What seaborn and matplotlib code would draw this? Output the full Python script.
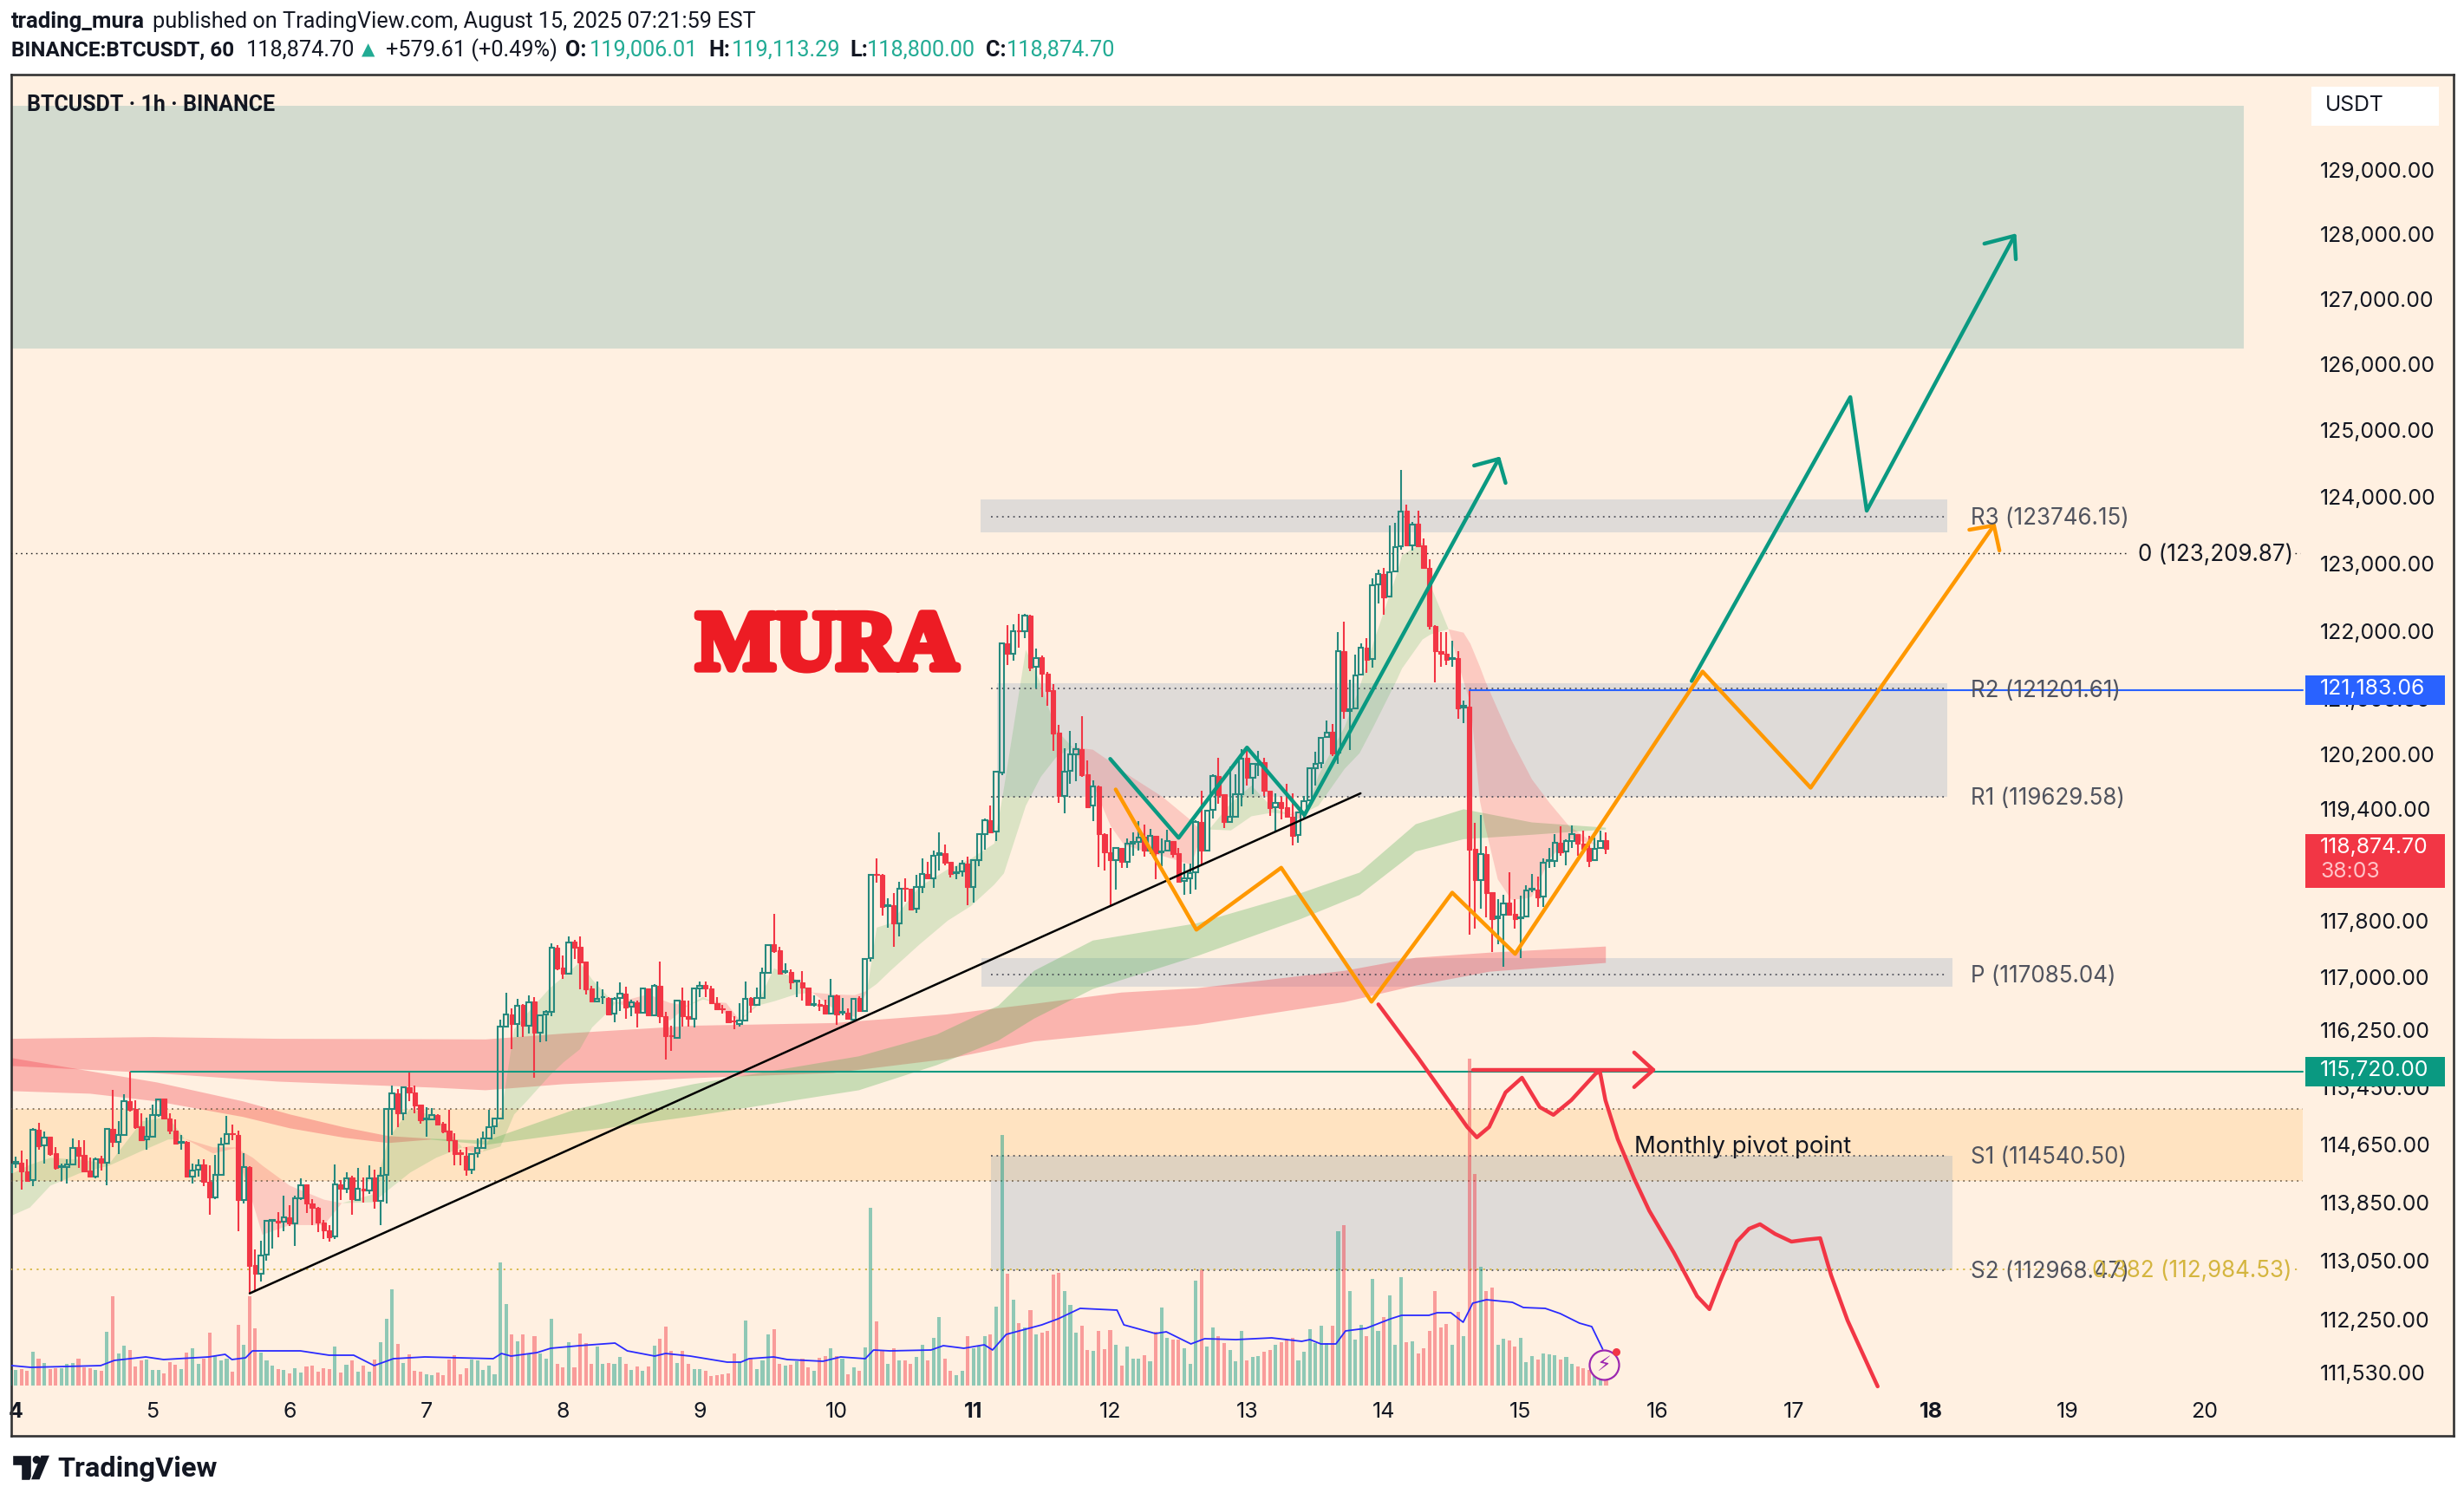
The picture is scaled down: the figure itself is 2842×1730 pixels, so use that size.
"""BTCUSDT 1h TradingView snapshot, redrawn with seaborn / matplotlib."""
import numpy as np
import pandas as pd
import matplotlib
matplotlib.use("Agg")
import matplotlib.pyplot as plt
import matplotlib.patheffects as pe
from matplotlib.patches import Rectangle, Polygon
from matplotlib.ticker import FixedLocator, NullLocator
from matplotlib.transforms import ScaledTranslation
import seaborn as sns

# ── Candles, 1h, first one is partly cut by the left edge ─────────────────────
OPENS = [114316,
    114436,114444,114332,114208,114908,114684,114804,114576,114392,114392,
    114420,114660,114552,114336,114252,114504,114452,114924,114740,114836,
    115308,115200,114960,114776,114812,115108,115336,115068,114900,114728,
    114736,114260,114348,114420,114188,113968,114284,114708,114860,114840,
    113932,114384,113040,112928,113184,113644,113648,113632,113700,113612,
    113956,114144,113888,113832,113628,113520,113428,114152,114092,114240,
    113940,114092,114068,114240,113920,114276,115196,115416,115140,115500,
    115428,115256,115052,115052,115116,114996,114896,114764,114588,114548,
    114356,114576,114656,114788,114956,115060,116352,116523,116384,116649,
    116364,116698,116262,116515,116559,117463,117186,117101,117553,117475,
    117268,116893,116706,116759,116755,116531,116747,116820,116625,116694,
    116547,116893,116507,116926,116502,116226,116193,116718,116498,116462,
    116889,116938,116889,116678,116604,116572,116429,116388,116437,116747,
    116657,116755,117109,117512,117430,117121,117125,116983,116979,116905,
    116661,116673,116653,116527,116787,116547,116547,116449,116752,116573,
    117315,118519,118507,118052,118072,117811,118321,118300,118023,118333,
    118519,118457,118788,118817,118685,118532,118557,118672,118325,118722,
    119095,119294,119128,119984,121865,121711,122066,122045,122283,121523,
    121661,121427,121176,120561,119646,120005,120244,120319,119955,119500,
    119784,119091,118830,118718,118892,118693,118958,118975,119053,118850,
    119066,118834,118850,118991,118817,118416,118457,118540,119264,118854,
    119442,119935,119663,119264,119335,119672,120198,119906,120098,120131,
    119722,119480,119554,119480,119339,119078,119409,119575,120048,120115,
    120499,120574,120270,121754,120879,120914,121414,121800,121637,122745,
    122897,122557,122938,123304,123842,123319,123649,123324,122989,122125,
    121754,121719,121643,121648,120933,120939,118873,118436,118804,118259,
    117881,117930,118102,117945,117881,117905,118293,118298,118190,118701,
    118701,118962,118839,118996,119094,118952,118888,118711,118888,119006.01]
HIGHS = [114468,
    114528,114620,114500,114928,115008,114888,114804,114660,114436,114492,
    114788,114756,114756,114516,114524,114540,114928,115464,115032,115404,
    115720,115320,115140,115080,115256,115324,115344,115140,115056,114840,
    114744,114432,114492,114500,114408,114552,114800,115100,114984,114900,
    114576,114396,113256,113376,113660,113660,113772,114000,113868,113996,
    114236,114144,113948,113840,113660,113588,114420,114204,114312,114264,
    114372,114240,114408,114348,114392,115212,115520,115476,115512,115720,
    115524,115256,115220,115208,115128,115020,115188,114860,114628,114660,
    114568,114788,114888,115188,115080,116445,116832,116600,116743,116669,
    116791,116759,116515,116576,117524,117504,117353,117626,117577,117626,
    117268,116926,116987,116881,116759,116763,116975,116914,116730,116710,
    116905,116893,116950,117268,116551,116364,116718,116901,116722,116901,
    116991,116991,116926,116759,116661,116572,116494,116682,116991,116771,
    116901,117186,117516,117945,117475,117247,117158,117007,117137,116905,
    116791,116730,116730,117023,116804,116747,116600,116747,116772,117310,
    118507,118747,118519,118167,118250,118407,118449,118300,118507,118747,
    118697,118859,119120,118946,118697,118623,118718,118768,118722,119095,
    119318,119505,120005,121878,122141,122150,122304,122304,122288,121794,
    121690,121452,121276,120674,120331,120582,120407,120800,120156,119863,
    119792,119099,119177,118904,118892,119028,119120,119277,119223,119169,
    119066,119028,119153,118995,118892,118664,118672,119285,119722,119442,
    119956,120198,119663,120073,119956,120324,120340,120123,120299,120198,
    119722,119684,119624,119822,119684,119417,119642,120048,120282,120499,
    120733,120687,122034,122196,121338,121709,121871,121947,122836,122963,
    122989,123624,123659,124452,123934,123675,123842,123421,123116,122135,
    122039,122039,121912,121754,121023,121186,119256,119370,118913,118259,
    118151,118225,118544,118151,118210,118357,118519,118485,118741,118888,
    119084,119207,119011,119217,119094,119143,119070,119035,119134,119113.29]
LOWS = [114208,
    114376,114076,114180,114124,114628,114436,114540,114356,114196,114160,
    114408,114372,114316,114240,114236,114340,114136,114660,114564,114836,
    115156,114924,114744,114628,114804,115092,115060,114852,114708,114628,
    114256,114160,114252,114124,113736,113944,114280,114700,114760,113508,
    113884,112648,112688,112816,113104,113268,113416,113500,113580,113308,
    113936,113760,113592,113496,113400,113364,113392,113940,114024,113736,
    113920,113904,114016,113820,113584,113884,114840,114948,115036,115308,
    115132,114996,114808,115052,114972,114864,114588,114408,114412,114264,
    114292,114520,114652,114780,114852,115050,116348,116038,116209,116209,
    116246,115636,116128,116140,116494,117150,117019,117093,117300,116881,
    116800,116702,116698,116673,116515,116405,116568,116454,116494,116332,
    116543,116507,116502,116397,115892,116014,116177,116348,116348,116336,
    116759,116759,116665,116584,116527,116405,116307,116348,116433,116543,
    116641,116751,117105,117386,117089,117097,116881,116763,116714,116649,
    116629,116564,116519,116519,116372,116507,116446,116429,116553,116573,
    117265,118395,117919,117753,117472,117621,118118,118002,117960,118242,
    118449,118317,118573,118639,118465,118441,118478,118076,118105,118631,
    118871,119111,118987,119947,121552,121619,121803,121941,121460,121201,
    121075,120950,120290,119542,119393,119813,119851,119922,119467,119273,
    118614,118573,118076,118292,118602,118602,118776,118850,118768,118809,
    118441,118623,118838,118755,118395,118221,118229,118291,118643,118850,
    119318,119533,119182,119256,119326,119492,119797,119663,119935,119646,
    119347,119119,119306,119335,118933,118962,119326,119567,119789,120048,
    120491,120215,120111,120765,120309,120904,121414,121434,121516,122455,
    122288,122552,122928,123253,123319,123243,123304,122989,122074,121302,
    121531,121556,121526,120765,120701,117645,117733,118018,117896,117404,
    117512,117193,117930,117733,117316,117896,118259,118043,118043,118603,
    118618,118775,118642,118888,118775,118878,118618,118706,118878,118800.00]
CLOSES = [114428,
    114460,114328,114196,114908,114676,114796,114564,114380,114404,114424,
    114652,114540,114324,114252,114500,114444,114916,114732,114832,115300,
    115188,114948,114760,114808,115112,115324,115060,114892,114708,114740,
    114256,114340,114412,114184,113968,114284,114700,114844,114848,113932,
    114388,113032,112924,113176,113648,113656,113620,113692,113608,113956,
    114140,113888,113824,113620,113512,113424,114152,114084,114232,113944,
    114088,114064,114232,113920,114272,115196,115408,115132,115500,115420,
    115248,115044,115064,115112,114984,114888,114756,114568,114572,114352,
    114568,114652,114780,114948,115060,116352,116519,116384,116641,116356,
    116690,116262,116511,116555,117463,117170,117101,117544,117471,117260,
    116881,116702,116739,116767,116523,116739,116812,116616,116686,116543,
    116893,116507,116926,116502,116214,116214,116714,116494,116462,116889,
    116930,116885,116678,116592,116592,116409,116417,116433,116739,116649,
    116751,117105,117508,117422,117097,117133,116971,116995,116897,116653,
    116673,116641,116527,116779,116523,116559,116458,116739,116565,117306,
    118499,118503,118043,118068,117807,118308,118308,118014,118333,118519,
    118457,118776,118813,118677,118519,118548,118664,118325,118714,119087,
    119294,119120,119997,121865,121711,122045,122054,122275,121514,121656,
    121418,121167,120553,119637,119997,120239,120315,119947,119484,119775,
    119087,118826,118718,118892,118689,118950,118975,119045,118855,119062,
    118813,118846,118987,118809,118407,118449,118528,119264,118850,119434,
    119927,119655,119260,119335,119663,120186,119901,120102,120110,119713,
    119471,119542,119471,119335,119070,119409,119571,120039,120110,120491,
    120566,120261,121754,120879,120904,121404,121800,121627,122735,122897,
    122552,122928,123294,123832,123319,123639,123304,122989,122125,121754,
    121719,121627,121658,120914,120948,118863,118431,118800,118249,117871,
    117915,118092,117940,117871,117896,118279,118308,118180,118682,118716,
    118962,118829,118986,119084,118957,118878,118706,118878,118996,118874.70]

# volume read as bar height, arbitrary units
VOLUMES = [18,
    18,19,17,39,31,26,19,20,20,25,
    26,31,21,20,18,17,62,103,37,46,
    41,22,29,30,18,18,14,27,24,19,
    38,43,25,31,61,34,29,31,16,70,
    47,103,66,38,29,23,19,18,14,20,
    15,22,23,16,20,19,45,15,24,29,
    16,23,16,30,50,77,111,48,26,36,
    17,16,13,12,15,12,30,35,13,20,
    30,29,18,23,13,142,94,59,51,59,
    37,57,37,31,77,25,21,50,21,60,
    49,25,45,25,26,25,33,25,18,22,
    17,22,46,54,68,40,26,40,25,19,
    19,17,11,12,13,14,37,28,75,31,
    19,29,59,65,25,23,24,28,31,21,
    17,32,34,43,34,31,13,21,17,44,
    205,74,41,25,43,29,29,25,33,47,
    29,55,79,31,17,12,17,57,43,45,
    57,59,91,289,129,99,72,67,87,59,
    61,63,128,130,109,93,61,69,41,40,
    63,42,64,47,23,45,31,31,35,28,
    62,90,55,53,53,43,25,121,133,45,
    67,57,49,41,28,63,29,33,34,39,
    41,47,50,53,55,29,39,65,49,69,
    49,69,178,185,109,53,70,57,123,63,
    79,104,47,125,50,51,37,43,63,109,
    67,71,47,85,57,377,244,137,109,113,
    47,54,52,45,55,27,34,30,37,36,
    35,30,33,25,22,20,18,15,12,8]

VOL_MA_DAYS = [3.97,4.11,4.62,4.72,4.95,5.08,5.41,5.53,5.58,5.68,5.73,6.08,6.29,6.47,6.62,6.76,
               6.99,7.49,7.55,7.62,7.81,7.91,8.12,8.38,8.47,8.67,8.75,8.93,9.20,9.30,9.36,9.54,
               9.64,9.90,10.03,10.21,10.27,10.39,10.69,10.78,10.93,11.08,11.14,11.24,11.50,11.62,
               11.78,12.05,12.10,12.33,12.41,12.59,12.69,12.92,13.18,13.40,13.46,13.54,13.65,13.72,
               13.87,14.05,14.13,14.33,14.39,14.49,14.58,14.65,14.75,14.94,15.02,15.18,15.29,15.43,
               15.52,15.60]
VOL_MA = [23,21,23,29,33,30,33,36,30,32,40,40,35,35,23,31,
          33,31,37,34,38,43,46,49,40,34,37,34,27,27,31,33,
          30,28,33,31,41,40,41,46,43,47,41,59,70,77,
          89,87,70,60,62,48,54,53,55,51,53,48,48,63,
          66,77,81,81,84,84,73,95,99,96,90,89,83,72,
          68,42]

# ── Moving average ribbons ────────────────────────────────────────────────────
SLOW_RED_DAYS = [3.97,5.0,5.91,7.05,7.43,8.0,8.95,9.97,10.81,11.44,12.08,12.63,13.71,14.23,14.77,15.62]
SLOW_RED_UP = [116184,116208,116184,116178,116175,116257,116368,116405,116528,116676,116836,116897,117143,117328,117401,117488]
SLOW_RED_LOW = [115802,115704,115584,115500,115463,115548,115632,115704,115901,116147,116270,116381,116701,116934,117131,117255]

MID_RED_DAYS = [3.97,4.54,5.03,5.66,6.0,6.40,6.72,7.03]
MID_RED_UP = [115913,115729,115572,115307,115126,114945,114825,114788]
MID_RED_LOW = [115451,115415,115307,115090,114933,114801,114728,114776]

MID_GREEN_DAYS = [7.03,7.44,8.09,8.95,10.16,10.73,11.18,11.44,11.87,12.63,13.39,13.82,14.23,14.58,15.08,15.62]
MID_GREEN_UP = [114788,114764,115198,115548,115938,116245,116651,117143,117573,117818,118249,118543,119239,119455,119265,119189]
MID_GREEN_LOW = [114776,114704,114873,115102,115463,115815,116159,116467,116885,117351,117880,118223,118846,119023,119087,119163]

FAST_GREEN = [
    ([3.97,4.10,4.25,4.46,4.68,4.92,5.11,5.23],
     [114304,114427,114523,114499,114439,115030,115090,114789],
     [113728,113836,114138,114307,114415,114620,114776,114789]),
    ([6.38,6.61,6.72,6.88,7.07,7.26],
     [113897,114019,114787,115209,115089,114668],
     [113897,113909,114078,114319,114524,114668]),
    ([7.41,7.54,7.64,7.73,7.90,8.00,8.12,8.21,8.34,8.38],
     [114608,115066,116319,116528,116897,117057,117266,117020,116750,116688],
     [114608,114680,115126,115307,115668,115852,116036,116344,116590,116688]),
    ([8.91,9.02,9.08], [116651,116774,116712], [116651,116737,116712]),
    ([9.29,9.42,9.54,9.70,9.82],
     [116442,116688,117180,117020,116836],
     [116442,116651,116712,116811,116836]),
    ([10.22,10.29,10.39,10.60,10.81,10.98,11.15,11.22,11.38,11.49,11.60,11.72],
     [116860,117757,117818,118337,118591,118744,118960,119760,121782,121278,120611,120357],
     [116860,116957,117143,117512,117857,118066,118372,118532,119506,119925,120204,120357]),
    ([12.72,12.88,13.03,13.18,13.31],
     [119163,119544,119798,119481,119379],
     [119163,119150,119354,119405,119379]),
    ([13.43,13.52,13.71,13.82,13.92,14.09,14.13,14.28,14.34,14.47],
     [119417,119950,120649,121228,121883,122891,123181,123370,122727,122085],
     [119417,119506,120039,120268,120649,121329,121505,121933,122009,122085]),
]
FAST_RED = [
    ([5.23,5.44,5.60,5.73,5.80,6.0,6.25,6.38],
     [114789,114668,114668,114524,114415,114138,113945,113897],
     [114789,114583,114656,113897,113463,113595,113595,113897]),
    ([7.26,7.34,7.41], [114668,114690,114607], [114668,114596,114607]),
    ([8.38,8.62,8.78,8.91], [116688,116811,116688,116651], [116688,116565,116442,116651]),
    ([9.08,9.19,9.29], [116712,116688,116442], [116712,116528,116442]),
    ([9.82,9.97,10.13,10.22], [116836,116811,116799,116860], [116836,116614,116491,116860]),
    ([11.72,11.87,12.0,12.10,12.38,12.59,12.67],
     [120357,120319,120141,119989,119633,119290,119125],
     [120357,119823,119214,118935,118782,118655,119125]),
    ([13.31,13.37,13.43], [119379,119443,119417], [119379,119316,119417]),
    ([14.47,14.58,14.63,14.70,14.74,14.83,14.93,15.04,15.08,15.21,15.35,15.56],
     [122085,122034,121870,121530,121316,120903,120459,120039,119887,119544,119214,118935],
     [122085,121316,121005,119570,119189,118447,118152,118176,118201,118744,119036,118935]),
]

# ── Zones and levels (left day, right day, low price, high price) ─────────────
SUPPLY_ZONE = (3.96, 20.285, 126294, 130063)
PIVOT_BOXES = [(11.05, 18.12, 123518, 124009),
               (11.17, 18.12, 119630, 121289),
               (11.06, 18.16, 116912, 117318),
               (11.13, 18.16, 112970, 114546)]
MONTHLY_ZONE = (3.96, 20.72, 114202, 115196)
PIVOT_NAMES = ["R3", "R2", "R1", "P", "S1", "S2"]
PIVOT_LEVELS = [123746.15, 121201.61, 119629.58, 117085.04, 114540.50, 112968.47]
FIB_0 = 123209.87
FIB_382 = 112984.53
BLUE_LEVEL = 121183.06
GREEN_LEVEL = 115720.00

# ── Hand drawn paths ──────────────────────────────────────────────────────────
TREND_DAYS, TREND_PRICES = [5.71, 13.83], [112655, 119679]
ZIG_DAYS = [12.00,12.50,13.00,13.42,14.84]
ZIG_PRICES = [120179,119036,120344,119366,124620]
ZIG_HEAD_DAYS, ZIG_HEAD_PRICES = [14.66,14.84,14.89], [124519,124620,124258]
UP_DAYS = [16.25,17.41,17.53,18.61]
UP_PRICES = [121316,125555,123841,128028]
UP_HEAD_DAYS, UP_HEAD_PRICES = [18.39,18.61,18.62], [127907,128028,127666]
ORANGE_DAYS = [12.04,12.63,13.25,13.91,14.50,14.96,16.33,17.12,18.46]
ORANGE_PRICES = [119735,117721,118607,116700,118250,117377,121455,119760,123621]
ORANGE_HEAD_DAYS, ORANGE_HEAD_PRICES = [18.28,18.46,18.50], [123556,123621,123246]
RED_DAYS = [13.96,14.25,14.61,14.68,14.77,14.89,15.01,15.14,15.24,15.37,15.55,15.58,15.62,
            15.71,15.83,15.94,16.12,16.29,16.38,16.46,16.58,16.67,16.75,16.86,16.98,17.09,17.19,17.27,17.39,17.61]
RED_PRICES = [116663,115913,114945,114801,114945,115427,115632,115222,115114,115318,115692,115716,115318,
              114776,114231,113788,113212,112616,112440,112828,113362,113539,113601,113468,113362,113390,113409,112900,112286,111394]
RED_FLAT_DAYS, RED_FLAT_PRICES = [14.65,15.97], [115741,115741]
RED_HEAD_DAYS, RED_HEAD_PRICES = [15.83,15.97,15.83], [115986,115741,115501]

# ── Axis labels ───────────────────────────────────────────────────────────────
PRICE_TICKS = [129000,128000,127000,126000,125000,124000,123000,122000,121000,120200,
               119400,117800,117000,116250,115450,114650,113850,113050,112250,111530]
DAY_TICKS = list(range(4, 21))
BOLD_DAYS = [4, 11, 18]

# ── Style ─────────────────────────────────────────────────────────────────────
W, H = 2842, 1730
BG = "#fff0e1"
UP_C, DOWN_C = "#26897e", "#f23645"
TEAL, BLUE, ORANGE = "#0a9981", "#2962ff", "#ff9800"
LEVEL_C = "#3c3f4a"
PIVOT_TXT = "#50535e"
GOLD = "#d4b53f"
LINE_W = 3.2

sns.set_theme(style="white", rc={"axes.facecolor": BG, "savefig.facecolor": "white"})
plt.rcParams["font.family"] = ["Inter", "DejaVu Sans"]
plt.rcParams["axes.unicode_minus"] = False


def px(size):
    """pixel size to points at dpi=100"""
    return size * 0.72


def draw_path(ax, days, prices, color, lw, z=7, **kw):
    sns.lineplot(x=days, y=prices, sort=False, estimator=None, errorbar=None, color=color,
                 linewidth=lw, solid_capstyle="round", solid_joinstyle="round",
                 zorder=z, legend=False, ax=ax, **kw)


def band(ax, days, upper, lower, color, alpha):
    ax.fill_between(days, lower, upper, color=color, alpha=alpha, linewidth=0, zorder=2)


def box(ax, spec, color, alpha):
    d0, d1, low, high = spec
    ax.fill_between([d0, d1], [low, low], [high, high], color=color, alpha=alpha, linewidth=0, zorder=1)


def level(ax, d0, d1, price, color, lw=1.1, z=3):
    ax.plot([d0, d1], [price, price], color=color, lw=lw, ls=(0, (1.2, 3)), zorder=z)


def level_label(ax, day, price, text, color):
    # the labels sit a hair under the level, as on the reference
    ax.annotate(text, (day, price), xytext=(0, -1.5), textcoords="offset points", color=color,
                fontsize=px(26), va="center", ha="left", zorder=8)


days = 4 + np.arange(-1, 280) / 24
candles = pd.DataFrame({"day": days, "open": OPENS, "high": HIGHS, "low": LOWS,
                        "close": CLOSES, "volume": VOLUMES})
candles["up"] = candles["close"] >= candles["open"]
candles["top"] = candles[["open", "close"]].max(axis=1)
candles["bot"] = candles[["open", "close"]].min(axis=1)

fig = plt.figure(figsize=(W / 100, H / 100), dpi=100, facecolor="white")
rect = [13 / W, 1 - 1656 / H, (2830 - 13) / W, (1656 - 86) / H]
ax = fig.add_axes(rect, zorder=1)
ax.set_yscale("log")

# ── Zones ─────────────────────────────────────────────────────────────────────
box(ax, SUPPLY_ZONE, "#70ada8", 0.3)
box(ax, MONTHLY_ZONE, "#ff9800", 0.14)
for spec in PIVOT_BOXES:
    box(ax, spec, "#80a0c0", 0.25)

# ── Ribbons ───────────────────────────────────────────────────────────────────
band(ax, SLOW_RED_DAYS, SLOW_RED_UP, SLOW_RED_LOW, DOWN_C, 0.32)
band(ax, MID_RED_DAYS, MID_RED_UP, MID_RED_LOW, DOWN_C, 0.32)
band(ax, MID_GREEN_DAYS, MID_GREEN_UP, MID_GREEN_LOW, "#4caf50", 0.3)
for seg in FAST_GREEN:
    band(ax, *seg, "#4caf50", 0.2)
for seg in FAST_RED:
    band(ax, *seg, DOWN_C, 0.2)

# ── Levels ────────────────────────────────────────────────────────────────────
for price in [MONTHLY_ZONE[2], MONTHLY_ZONE[3]]:
    level(ax, 3.96, MONTHLY_ZONE[1], price, "#6b5a45")
for name, price in zip(PIVOT_NAMES, PIVOT_LEVELS):
    level(ax, 11.13, 18.10, price, LEVEL_C)
    level_label(ax, 18.29, price, f"{name} ({price:.2f})", PIVOT_TXT)
level(ax, 3.96, 19.45, FIB_0, "#202020", lw=1.0)
level(ax, 20.66, 20.70, FIB_0, "#202020", lw=1.0)
level_label(ax, 19.51, FIB_0, f"0 ({FIB_0:,.2f})", "#131722")
level(ax, 3.96, 19.15, FIB_382, GOLD, lw=1.3)
level(ax, 20.66, 20.70, FIB_382, GOLD, lw=1.3)
level_label(ax, 19.18, FIB_382, f"0.382 ({FIB_382:,.2f})", GOLD)

ax.plot([4.84, 20.72], [GREEN_LEVEL, GREEN_LEVEL], color=TEAL, lw=1.5, zorder=6)
ax.plot([14.63, 20.72], [BLUE_LEVEL, BLUE_LEVEL], color=BLUE, lw=1.5, zorder=6)

# ── Candles: outlined up bodies stay see-through, so wicks stop at the body ───
BODY_W = 0.034
up, down = candles[candles["up"]], candles[~candles["up"]]
ax.vlines(down["day"], down["low"], down["high"], color=DOWN_C, lw=1.5, zorder=4)
ax.bar(down["day"], down["top"] - down["bot"], bottom=down["bot"], width=BODY_W, color=DOWN_C,
       edgecolor=DOWN_C, linewidth=0.8, zorder=4)
ax.vlines(up["day"], up["top"], up["high"], color=UP_C, lw=1.5, zorder=4)
ax.vlines(up["day"], up["low"], up["bot"], color=UP_C, lw=1.5, zorder=4)
ax.bar(up["day"], up["top"] - up["bot"], bottom=up["bot"], width=BODY_W, facecolor="none",
       edgecolor=UP_C, linewidth=1.5, zorder=4)

# ── Drawings ──────────────────────────────────────────────────────────────────
draw_path(ax, TREND_DAYS, TREND_PRICES, "#000000", 1.8)
draw_path(ax, ZIG_DAYS, ZIG_PRICES, TEAL, LINE_W)
draw_path(ax, ZIG_HEAD_DAYS, ZIG_HEAD_PRICES, TEAL, LINE_W)
draw_path(ax, UP_DAYS, UP_PRICES, TEAL, LINE_W)
draw_path(ax, UP_HEAD_DAYS, UP_HEAD_PRICES, TEAL, LINE_W)
draw_path(ax, ORANGE_DAYS, ORANGE_PRICES, ORANGE, LINE_W)
draw_path(ax, ORANGE_HEAD_DAYS, ORANGE_HEAD_PRICES, ORANGE, LINE_W)
draw_path(ax, RED_DAYS, RED_PRICES, DOWN_C, LINE_W)
draw_path(ax, RED_FLAT_DAYS, RED_FLAT_PRICES, DOWN_C, LINE_W)
draw_path(ax, RED_HEAD_DAYS, RED_HEAD_PRICES, DOWN_C, LINE_W)

ax.text(15.83, 114665, "Monthly pivot point", color="#131722", fontsize=px(27.5), va="center", ha="left", zorder=8)

# ── Axes ──────────────────────────────────────────────────────────────────────
ax.set_xlim(3.967, 21.82)
ax.set_ylim(110730, 130550)
ax.yaxis.tick_right()
ax.yaxis.set_major_locator(FixedLocator(PRICE_TICKS))
ax.yaxis.set_minor_locator(NullLocator())
ax.set_yticklabels([f"{t:,.2f}" for t in PRICE_TICKS])
ax.set_xticks(DAY_TICKS)
ax.set_xticklabels([str(d) for d in DAY_TICKS])
ax.tick_params(axis="y", which="both", length=0, pad=-px(154), labelsize=px(24.8), labelcolor="#131722")
ax.tick_params(axis="x", length=0, pad=-px(39), labelsize=px(25), labelcolor="#131722")
for lab, d in zip(ax.get_xticklabels(), DAY_TICKS):
    if d in BOLD_DAYS:
        lab.set_fontweight("bold")
# scale labels sit slightly above their price
lift = ScaledTranslation(0, 4 / 100, fig.dpi_scale_trans)
for lab in ax.get_yticklabels():
    lab.set_transform(lab.get_transform() + lift)
ax.set_xlabel("")
ax.set_ylabel("")
for sp in ax.spines.values():
    sp.set_visible(True)
    sp.set_color("#333333")
    sp.set_linewidth(1.9)

# ── Volume pane on its own linear axis, sharing the day scale ─────────────────
ax_vol = fig.add_axes(rect, sharex=ax, zorder=2)
ax_vol.patch.set_alpha(0)
candles["side"] = np.where(candles["up"], "up", "down")
sns.barplot(data=candles, x="day", y="volume", hue="side", palette={"up": "#089981", "down": DOWN_C},
            native_scale=True, dodge=False, width=0.62, saturation=1, alpha=0.45, linewidth=0,
            errorbar=None, legend=False, ax=ax_vol)
sns.lineplot(x=VOL_MA_DAYS, y=VOL_MA, color="#2a2aff", linewidth=1.3, estimator=None, errorbar=None,
             sort=False, legend=False, ax=ax_vol)
ax_vol.set_ylim(-58, 1512)
ax_vol.set_xlim(3.967, 21.82)
ax_vol.set_axis_off()

# ── Indicator badge ───────────────────────────────────────────────────────────
ax_vol.scatter([15.61], [24], s=600, facecolor=BG, edgecolor="#9c27b0", linewidth=1.6, zorder=8)
ax_vol.text(15.61, 24, "\u26a1", color="#9c27b0", fontsize=px(24), ha="center", va="center",
            family=["DejaVu Sans"], zorder=9)
ax_vol.scatter([15.70], [39], s=30, color=DOWN_C, zorder=10)


# ── Price tags on the scale, placed from the price via the axis transform ─────
def tag(price, color, label, half=17):
    cy = ax.transData.transform((5, price))[1]
    fig.add_artist(Rectangle((2659 / W, (cy - half) / H), 161 / W, 2 * half / H, transform=fig.transFigure,
                             facecolor=color, edgecolor="none", zorder=5))
    fig.text(2676 / W, (cy + 1) / H, label, color="white", fontsize=px(24.8), va="center", ha="left", zorder=6)


tag(BLUE_LEVEL, BLUE, f"{BLUE_LEVEL:,.2f}")
tag(GREEN_LEVEL, TEAL, f"{GREEN_LEVEL:,.2f}")
last_y = 1 - 993 / H
fig.add_artist(Rectangle((2659 / W, last_y - 31 / H), 161 / W, 62 / H, transform=fig.transFigure,
                         facecolor=DOWN_C, edgecolor="none", zorder=5))
fig.text(2676 / W, 1 - 978 / H, f"{CLOSES[-1]:,.2f}", color="white", fontsize=px(24.8), va="center", zorder=6)
fig.text(2676 / W, 1 - 1006 / H, "38:03", color="#ffc4c8", fontsize=px(24.8), va="center", zorder=6)

fig.add_artist(Rectangle((2666 / W, 1 - 145 / H), 147 / W, 45 / H, transform=fig.transFigure,
                         facecolor="white", edgecolor="none", zorder=5))
fig.text(2682 / W, 1 - 121 / H, "USDT", color="#131722", fontsize=px(24.8), va="center", zorder=6)

# ── Header ────────────────────────────────────────────────────────────────────
HEAD_FONT = ["Roboto", "DejaVu Sans"]


def head(x, y, text, color="#131722", bold=False, size=25.3):
    fig.text(x / W, 1 - y / H, text, color=color, fontsize=px(size), va="center", ha="left",
             fontweight="bold" if bold else "normal", family=HEAD_FONT, zorder=6)


head(13, 25, "trading_mura", bold=True, size=25.8)
head(176, 25, "published on TradingView.com, August 15, 2025 07:21:59 EST")
head(13, 58, "BINANCE:BTCUSDT, 60", bold=True, size=24.2)
head(284, 58, "118,874.70")
head(417, 58, "\u25b2", color="#22ab94", size=20)
head(445, 58, "+579.61 (+0.49%)")
for x_key, x_val, key, val in [(652, 680, "O:", 119006.01), (817, 844, "H:", 119113.29),
                               (980, 1000, "L:", 118800.00), (1137, 1161, "C:", 118874.70)]:
    head(x_key, 58, key, bold=True)
    head(x_val, 58, f"{val:,.2f}", color="#22ab94")
head(31, 121, "BTCUSDT \u00b7 1h \u00b7 BINANCE", bold=True, size=25)

# ── Watermark ─────────────────────────────────────────────────────────────────
fig.text(954 / W, 1 - 748 / H, "MURA", color="#ed1c24", fontsize=px(97), fontweight="bold",
         family=["Liberation Serif", "DejaVu Serif"], ha="center", va="center", zorder=6,
         path_effects=[pe.withStroke(linewidth=6, foreground="#ed1c24")])

# ── TradingView logo ──────────────────────────────────────────────────────────
INK = "#131722"
tee = [(14, 1678), (36, 1678), (36, 1707), (24, 1707), (24, 1690), (14, 1690)]
fig.add_artist(Polygon([(x / W, 1 - y / H) for x, y in tee], transform=fig.transFigure, facecolor=INK, zorder=5))
slash = [(47, 1678), (58, 1678), (46, 1707), (35, 1707)]
fig.add_artist(Polygon([(x / W, 1 - y / H) for x, y in slash], transform=fig.transFigure, facecolor=INK, zorder=5))
fig.text(42 / W, 1 - 1683 / H, "\u25cf", color=INK, fontsize=px(12), ha="center", va="center",
         family=["DejaVu Sans"], zorder=6)
fig.text(66 / W, 1 - 1694 / H, "TradingView", color=INK, fontsize=px(32.5), fontweight="bold", va="center", ha="left",
         family=HEAD_FONT, zorder=6)

fig.savefig("out.png", dpi=100, facecolor="white")
